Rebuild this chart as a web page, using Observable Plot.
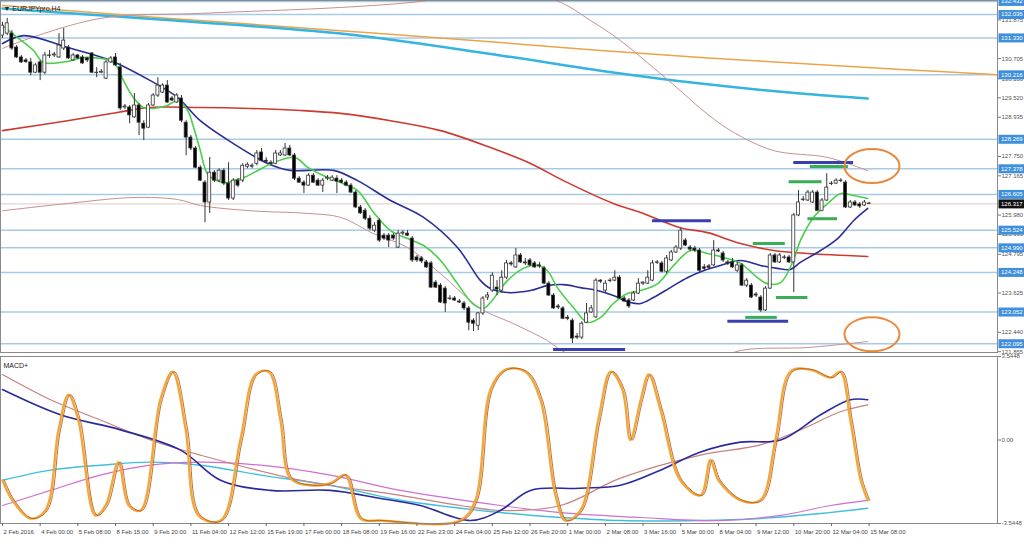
<!DOCTYPE html>
<html><head><meta charset="utf-8">
<script src="https://cdn.jsdelivr.net/npm/d3@7"></script>
<script src="https://cdn.jsdelivr.net/npm/@observablehq/plot@0.6"></script>
<style>
html,body{margin:0;padding:0;background:#fff;}
#chart{position:relative;width:1024px;height:544px;overflow:hidden;}
#toppanel{position:absolute;left:0;top:0;}
#botpanel{position:absolute;left:0;top:354px;}
svg{overflow:hidden;}
</style></head><body><div id="chart"><div id="toppanel"></div><div id="botpanel"></div></div>
<script>
// ---- price data (H4 candles, index 0..184) ----
const opens = [
131.40,131.46,131.46,131.04,130.74,130.65,130.59,130.28,130.59,130.28,
130.80,130.80,130.74,131.01,131.04,130.65,130.80,130.74,130.71,130.86,
130.28,130.28,130.10,130.59,130.74,130.44,129.23,129.23,128.93,129.29,
128.74,128.62,129.29,129.59,129.68,129.89,129.50,129.38,129.50,128.77,
128.32,127.99,127.41,126.96,126.36,127.26,127.02,127.32,126.93,126.48,
127.02,127.02,127.44,127.44,127.53,127.87,127.62,127.56,127.53,127.78,
127.78,127.99,127.78,127.08,126.96,126.87,127.17,127.02,126.87,127.08,
127.02,127.08,127.02,126.96,126.87,126.66,126.21,126.11,125.87,125.51,
125.81,125.36,125.36,125.36,125.00,125.42,125.42,125.27,124.70,124.67,
124.55,124.52,123.94,123.85,123.76,123.46,123.46,123.37,123.31,123.16,
122.79,122.64,123.01,123.49,123.70,123.79,123.70,124.09,124.52,124.40,
124.76,124.55,124.61,124.52,124.46,124.37,123.91,123.55,123.22,123.16,
122.88,122.79,122.31,122.28,122.73,123.04,122.89,124.00,123.70,124.00,
124.00,124.09,123.46,123.40,123.40,123.61,123.91,123.91,124.00,124.55,
124.52,124.27,124.61,124.85,124.97,125.21,125.00,124.97,124.91,124.40,
124.43,124.46,124.91,124.82,124.55,124.55,124.30,124.46,123.85,123.85,
123.58,123.49,123.10,123.76,124.76,124.55,124.70,124.70,124.55,125.97,
126.45,126.42,126.36,126.66,126.11,126.42,126.93,126.93,127.02,126.96,
126.21,126.36,126.30,126.27,126.33];
const highs = [
131.80,131.92,131.55,131.10,130.80,130.71,130.71,130.56,130.65,130.89,
130.95,130.89,131.46,131.61,131.10,130.86,130.83,130.80,130.74,130.89,
130.43,130.37,130.65,130.77,130.86,130.56,129.32,129.29,129.65,129.35,
128.83,129.35,129.65,130.13,129.95,130.04,129.56,129.65,129.59,128.83,
128.38,128.05,127.47,127.02,127.72,127.32,127.38,127.38,127.56,127.08,
127.08,127.53,127.56,127.53,127.93,127.99,127.71,127.62,127.93,127.93,
128.14,128.08,127.84,127.14,127.02,127.23,127.23,127.08,127.08,127.17,
127.17,127.17,127.08,127.02,126.93,126.72,126.27,126.18,125.96,125.75,
125.87,125.42,125.42,125.42,125.51,125.51,125.51,125.33,124.76,124.73,
124.61,124.58,124.00,123.91,123.82,123.55,123.52,123.43,123.37,123.22,
122.85,123.04,123.52,123.64,124.24,124.00,124.30,124.61,124.58,124.97,
124.82,124.67,124.67,124.58,124.55,124.43,123.97,123.61,123.28,123.22,
122.95,122.85,122.40,122.76,123.31,123.25,124.06,124.03,124.00,124.06,
124.30,124.15,123.52,123.46,123.67,124.06,123.97,124.30,124.61,124.61,
124.58,124.76,124.91,125.06,125.57,125.27,125.06,125.03,124.97,124.49,
124.49,125.21,124.97,124.88,124.61,124.67,124.55,124.52,124.06,123.91,
123.64,123.55,123.82,124.82,124.82,124.82,124.76,124.76,126.03,126.72,
126.54,126.72,126.72,126.72,126.48,127.23,126.99,127.08,127.08,127.02,
126.42,126.42,126.36,126.42,126.36];
const lows = [
131.31,131.40,130.95,130.71,130.56,130.56,130.19,130.25,130.04,130.22,
130.71,130.74,130.71,130.95,130.68,130.62,130.68,130.53,130.59,130.25,
130.13,130.25,130.07,130.56,130.47,129.14,129.17,128.74,128.90,128.38,
128.23,128.59,129.26,129.53,129.65,129.35,129.41,129.35,128.77,127.77,
127.93,127.38,126.99,125.75,126.03,126.96,126.96,126.87,126.42,126.42,
126.81,126.96,127.38,127.38,127.47,127.59,127.53,127.47,127.50,127.75,
127.75,127.75,127.02,126.93,126.63,126.84,126.93,126.84,126.66,127.02,
126.99,126.63,126.93,126.84,126.63,126.18,126.00,125.81,125.51,125.45,
125.15,125.21,125.00,125.21,124.97,125.36,125.33,124.55,124.55,124.52,
124.37,123.76,123.76,123.31,123.04,123.40,123.37,123.31,123.10,122.49,
122.46,122.49,122.95,123.40,123.64,123.55,123.64,124.03,124.43,124.37,
124.52,124.46,124.43,124.37,124.37,123.88,123.52,123.13,123.13,122.82,
122.79,122.10,122.22,122.22,122.70,123.01,122.86,123.91,123.64,123.94,
123.97,123.43,123.34,123.16,123.37,123.58,123.85,123.88,123.97,124.49,
124.24,124.21,124.58,124.82,124.91,125.03,124.88,124.85,124.24,124.30,
124.33,124.43,124.85,124.55,124.46,124.37,124.24,123.82,123.79,123.46,
123.49,123.04,123.07,123.73,124.52,124.52,124.64,124.52,123.64,125.93,
126.39,126.39,126.33,126.08,126.08,126.39,126.87,126.90,126.96,126.18,
126.18,126.24,126.18,126.24,126.30];
const closes = [
131.70,131.77,131.01,130.74,130.59,130.60,130.28,130.50,130.28,130.80,
130.79,130.83,131.10,131.25,130.71,130.80,130.71,130.56,130.65,130.28,
130.27,130.31,130.59,130.71,130.50,129.20,129.26,128.99,129.29,128.77,
128.59,129.29,129.59,129.89,129.89,129.38,129.44,129.59,128.83,128.32,
127.99,127.41,127.02,126.36,127.26,127.02,127.32,126.93,126.48,127.02,
126.87,127.47,127.50,127.47,127.84,127.62,127.59,127.53,127.84,127.84,
127.99,127.78,127.08,126.96,126.87,127.17,126.96,126.87,127.02,127.11,
127.11,126.99,126.96,126.87,126.66,126.21,126.03,125.87,125.57,125.66,
125.21,125.27,125.21,125.27,125.42,125.45,125.36,124.61,124.61,124.58,
124.40,123.79,123.79,123.34,123.31,123.45,123.40,123.34,123.16,122.73,
122.70,123.01,123.46,123.55,124.15,123.73,124.09,124.52,124.49,124.76,
124.55,124.52,124.46,124.40,124.43,123.91,123.55,123.16,123.19,122.85,
122.85,122.25,122.28,122.70,123.01,123.16,124.00,123.97,123.91,123.99,
124.09,123.46,123.37,123.22,123.61,123.91,123.94,124.09,124.52,124.54,
124.27,124.67,124.85,125.00,125.51,125.06,124.94,124.91,124.30,124.36,
124.39,124.91,124.88,124.61,124.52,124.40,124.46,123.85,124.00,123.49,
123.55,123.10,123.76,124.76,124.55,124.76,124.69,124.55,125.97,126.36,
126.44,126.66,126.66,126.11,126.42,126.81,126.92,127.02,127.01,126.21,
126.36,126.27,126.24,126.36,126.32];

// ---- indicator lines: [bar index, value] ----
const maGreen = [[0,131.70],[3.2,131.34],[6.6,130.95],[8.7,130.59],[13.8,130.62],[17.2,130.74],[20.8,130.71],[22.9,130.65],[24.4,130.44],[25.7,130.04],[27.8,129.53],[29.9,129.23],[32.1,129.20],[35,129.29],[37.2,129.44],[39.3,129.14],[40.6,128.62],[42,127.93],[43.5,127.23],[45.6,127.02],[47.8,126.96],[49,127.02],[51.2,127.11],[54.1,127.32],[57.5,127.56],[61.1,127.72],[62.6,127.69],[64.8,127.42],[68.2,127.17],[71.8,126.96],[75.4,126.72],[78.8,126.06],[82.4,125.51],[86,125.27],[89.4,125.06],[93,124.61],[96.6,123.91],[100,123.28],[102.1,123.16],[103.6,123.34],[107.2,124.00],[110.6,124.37],[113.6,124.46],[115.7,124.30],[117.8,123.79],[121.2,123.19],[124.2,122.74],[127,122.89],[129.7,123.31],[132.7,123.61],[135.5,123.70],[139.1,123.91],[142.5,124.46],[146.1,124.91],[149.7,124.82],[153.1,124.70],[156.7,124.52],[160.3,124.09],[162.4,123.91],[165.2,123.94],[167.9,124.61],[169.4,125.21],[172.2,125.91],[175.2,126.33],[178,126.63],[180.7,126.57],[183.7,126.48]];
const maBlue = [[0,131.16],[4.5,131.40],[13.8,131.04],[22.9,130.65],[31.4,130.04],[37.2,129.53],[42,128.83],[49,128.14],[56.3,127.54],[61.1,127.33],[64.8,127.33],[70.3,127.33],[75.4,127.02],[82.4,126.42],[89.4,125.91],[96.6,125.00],[101.5,124.00],[103.6,123.76],[107.2,123.64],[112.1,123.70],[115.7,123.85],[119.1,123.88],[122.7,123.79],[126.3,123.70],[129.7,123.55],[133.3,123.34],[135.5,123.31],[138.2,123.49],[141.8,123.79],[145.4,124.09],[148.8,124.30],[152.4,124.46],[156.7,124.61],[160.9,124.46],[164.5,124.37],[167.3,124.34],[169.4,124.55],[173.7,124.91],[177.3,125.27],[180.7,125.81],[183.7,126.18]];
const maRed = [[0,128.53],[13.8,128.83],[24.4,129.08],[31.4,129.23],[42,129.23],[52.7,129.20],[63.3,129.14],[71.8,129.05],[82.4,128.83],[93,128.53],[103.6,128.02],[112.1,127.54],[119.1,127.02],[129.7,126.33],[135.5,126.06],[143.9,125.60],[149.7,125.45],[156.7,125.12],[163.7,124.91],[170.9,124.82],[183.7,124.73]];
const bandUpper = [[0,131.01],[3.2,131.19],[20.8,131.92],[42,132.07],[71.8,132.25],[88.7,132.43],[101.5,132.70],[117.4,132.46],[124.8,131.86],[131.2,131.25],[137.6,130.50],[143.9,129.74],[148.2,129.20],[154.6,128.53],[163.7,127.93],[175.2,127.72],[183.7,127.32]];
const bandLower = [[0,126.11],[13.8,126.33],[27.8,126.51],[37.2,126.45],[42,126.27],[52.7,126.11],[64.8,126.03],[71.8,125.91],[78.8,125.42],[86,125.00],[93,124.21],[101.5,123.16],[108.5,122.70],[115.7,122.19],[119.5,121.83],[131.2,121.44],[148.2,121.44],[156.7,121.89],[170.9,121.98],[183.7,122.16]];
const maCyan = [[0,132.22],[35.7,131.86],[71.8,131.46],[105.7,130.80],[127,130.34],[148.2,129.95],[169.4,129.65],[183.7,129.50]];
const maOrange = [[0,132.31],[35.7,131.92],[71.8,131.55],[105.7,131.19],[127,130.95],[148.2,130.74],[169.4,130.56],[190.7,130.38],[211.3,130.22]];

// ---- levels, ticks, annotations ----
const levels = [132.432,132.036,131.330,130.216,128.269,127.378,126.605,125.524,124.990,124.248,123.052,122.095];
const lastPrice = 126.317;
const priceTicks = [131.875,130.705,130.100,129.520,128.935,127.750,127.165,125.980,125.395,124.795,123.625,122.440,121.855];
const blueSegs = [[138,150.5,125.81],[168,180.7,127.57],[154,166.9,122.77],[117,132.3,121.92]];
const greenSegs = [[171.5,179.6,127.45],[167,174,126.99],[171,177.3,125.87],[159.4,166.2,125.12],[164.3,171,123.49],[157.8,164.5,122.89]];
const circles = [[184.6,127.46],[184.6,122.38]];

// ---- MACD panel: [bar index, value] ----
const macdRange = 3.5448;
const oscOrange = [[0,-1.71],[2.1,-2.56],[5.9,-3.33],[9.1,-2.99],[11.9,0.43],[14,1.92],[16.1,0.85],[19.7,-3.20],[21.9,-2.78],[24.6,-0.94],[26.8,-2.78],[29.3,-2.99],[33.5,1.71],[36.1,2.90],[38.9,0.43],[41.6,-3.20],[46.3,-3.42],[50.5,0],[53.7,2.78],[56.5,2.90],[59,0.85],[61.1,-1.62],[65.4,-1.92],[69.6,-1.84],[72.8,-1.49],[76,-3.33],[80.3,-3.42],[97.2,-3.42],[100.4,-2.56],[103.6,2.14],[106.8,2.99],[111,2.90],[114.2,1.71],[117.4,-2.35],[119.5,-3.42],[122.7,-2.99],[126.5,0.85],[129.1,2.90],[131.6,2.14],[133.3,0],[135.5,1.71],[137.2,2.78],[139.7,1.28],[143.9,-1.71],[148.2,-2.35],[150.3,-0.85],[152,-1.71],[156.7,-2.56],[160.9,-2.56],[164.1,0],[167.3,2.90],[171.5,2.99],[175.8,2.65],[177.9,2.90],[180,0.85],[182.2,-1.71],[183.7,-2.56]];
const macdBlue = [[0,2.14],[12.3,1.07],[25.1,0.43],[37.8,-0.43],[46.3,-1.71],[56.9,-2.14],[69.6,-2.14],[80.3,-2.48],[88.7,-2.78],[99.4,-3.42],[105.7,-2.99],[112.1,-2.14],[122.7,-2.05],[131.2,-1.92],[139.7,-1.28],[148.2,-0.51],[156.7,-0.09],[165.2,0],[173.7,1.07],[180,1.71],[183.7,1.71]];
const macdPink = [[0,2.78],[10.2,1.71],[20.8,0.85],[31.4,0],[42,-0.64],[63.3,-1.71],[84.5,-2.35],[97.2,-2.78],[105.7,-2.99],[118.5,-2.78],[131.2,-1.62],[148.2,-0.64],[160.9,-0.21],[169.4,0.43],[177.9,1.20],[183.7,1.49]];
const macdCyan = [[0,-1.71],[10.2,-1.28],[20.8,-1.07],[31.4,-0.94],[42,-1.07],[54.8,-1.49],[69.6,-1.92],[84.5,-2.56],[105.7,-3.08],[118.5,-3.29],[131.2,-3.42],[148.2,-3.42],[160.9,-3.33],[173.7,-3.12],[183.7,-2.90]];
const macdMagenta = [[0,-2.78],[10.2,-2.14],[20.8,-1.49],[31.4,-1.07],[42,-0.94],[54.8,-1.07],[69.6,-1.49],[84.5,-2.14],[105.7,-2.78],[118.5,-3.08],[135.5,-3.29],[152.4,-3.42],[165.2,-3.20],[175.8,-2.78],[183.7,-2.56]];

// ---- time axis ----
const dateTickBars = d3.range(0, 185, 8);
const dateLabels = ["2 Feb 2016","4 Feb 00:00","5 Feb 08:00","8 Feb 15:00","9 Feb 20:00","11 Feb 04:00","12 Feb 12:00","15 Feb 19:00","17 Feb 00:00","18 Feb 08:00","19 Feb 16:00","22 Feb 23:00","24 Feb 04:00","25 Feb 12:00","26 Feb 20:00","1 Mar 00:00","2 Mar 08:00","3 Mar 16:00","5 Mar 00:00","8 Mar 04:00","9 Mar 12:00","10 Mar 20:00","12 Mar 04:00","15 Mar 08:00"];

// ---- build ----
(function () {
const FONT = "Liberation Sans, Arial, sans-serif";
const AX = 6;
const xDomain = [-0.42, 211.25];
const candles = closes.map((c, i) => ({i, o: opens[i], h: highs[i], l: lows[i], c}));
const pts = arr => arr.map(([x, y]) => ({x, y}));
const segs = arr => arr.map(([a, b, y]) => ({a, b, y}));

const boxSymbol = {draw(ctx) { ctx.moveTo(-13, -4.5); ctx.lineTo(13, -4.5); ctx.lineTo(13, 4.5); ctx.lineTo(-13, 4.5); ctx.closePath(); }};
const ellipseSymbol = {draw(ctx, size) {
  const r = Math.sqrt(size / Math.PI), rx = r * 1.62, ry = r, k = 0.5523;
  ctx.moveTo(rx, 0);
  ctx.bezierCurveTo(rx, k * ry, k * rx, ry, 0, ry);
  ctx.bezierCurveTo(-k * rx, ry, -rx, k * ry, -rx, 0);
  ctx.bezierCurveTo(-rx, -k * ry, -k * rx, -ry, 0, -ry);
  ctx.bezierCurveTo(k * rx, -ry, rx, -k * ry, rx, 0);
  ctx.closePath();
}};
const line = (arr, stroke, w, extra = {}) => Plot.line(pts(arr), {x: "x", y: "y", stroke, strokeWidth: w, curve: "catmull-rom", ...extra});

const topChart = Plot.plot({
  width: 1024, height: 354, marginLeft: 0, marginRight: 27, marginTop: 0, marginBottom: 2,
  x: {domain: xDomain, axis: null},
  y: {domain: [121.83, 132.46], axis: null},
  style: {fontFamily: FONT, background: "white", overflow: "hidden"},
  marks: [
    Plot.ruleY(levels, {stroke: "#a7cbe6", strokeWidth: 1.5}),
    Plot.ruleY([lastPrice], {stroke: "#dcc8c8", strokeWidth: 1}),
    line(maOrange, "#eca449", 1.5),
    line(maCyan, "#34b4de", 2.5),
    line(bandUpper, "#c69090", 1, {clip: true}),
    line(bandLower, "#c69090", 1, {clip: true}),
    line(maRed, "#cc3a30", 1.6),
    line(maBlue, "#2a2e95", 1.6),
    line(maGreen, "#48d048", 1.6),
    Plot.ruleX(candles, {x: "i", y1: "l", y2: "h", stroke: "#333", strokeWidth: 1}),
    Plot.rect(candles, {x1: d => d.i - 0.32, x2: d => d.i + 0.32, y1: "o", y2: "c", fill: d => d.c >= d.o ? "#fff" : "#000", stroke: "#333", strokeWidth: 0.8}),
    Plot.ruleY(segs(blueSegs), {x1: "a", x2: "b", y: "y", stroke: "#3a3fb0", strokeWidth: 3}),
    Plot.ruleY(segs(greenSegs), {x1: "a", x2: "b", y: "y", stroke: "#3aad58", strokeWidth: 3}),
    Plot.dot(pts(circles), {x: "x", y: "y", r: 17, symbol: ellipseSymbol, stroke: "#e8893c", strokeWidth: 2, fill: "none"}),
    Plot.frame({stroke: "#8a8a8a"}),
    Plot.axisY({anchor: "right", label: null, ticks: priceTicks, tickFormat: d => d.toFixed(3), tickSize: 3, tickPadding: 1, fontSize: AX, fill: "#555", stroke: "#777"}),
    Plot.dot(levels, {y: d => d, frameAnchor: "right", dx: 14, symbol: boxSymbol, r: 5, fill: "#3f8fdb"}),
    Plot.text(levels, {y: d => d, frameAnchor: "right", dx: 3.5, textAnchor: "start", text: d => d.toFixed(3), fill: "white", fontSize: AX}),
    Plot.dot([lastPrice], {y: d => d, frameAnchor: "right", dx: 14, symbol: boxSymbol, r: 5, fill: "#111"}),
    Plot.text([lastPrice], {y: d => d, frameAnchor: "right", dx: 3.5, textAnchor: "start", text: d => d.toFixed(3), fill: "white", fontSize: AX}),
    Plot.text(["▼ EURJPYpro,H4"], {frameAnchor: "top-left", dx: 3, dy: 6, textAnchor: "start", fontSize: 7, fill: "#222"})
  ]
});
document.getElementById("toppanel").appendChild(topChart);

const botChart = Plot.plot({
  width: 1024, height: 190, marginLeft: 0, marginRight: 27, marginTop: 2, marginBottom: 21,
  x: {domain: xDomain, axis: null},
  y: {domain: [-macdRange, macdRange], axis: null},
  style: {fontFamily: FONT, background: "white", overflow: "hidden"},
  marks: [
    line(macdCyan, "#3ec0dc", 1.4),
    line(macdMagenta, "#cf6fcf", 1.2),
    line(macdPink, "#c98080", 1.2),
    line(macdBlue, "#2a2a9e", 1.6),
    line(oscOrange, "#f2a63c", 2.4),
    line(oscOrange, "#b8601e", 0.9, {dx: 2}),
    Plot.frame({stroke: "#8a8a8a"}),
    Plot.axisY({anchor: "right", label: null, ticks: [macdRange, 0, -macdRange], tickFormat: d => d === 0 ? "0.00" : d.toFixed(4), tickSize: 3, tickPadding: 1, fontSize: AX, fill: "#555", stroke: "#777"}),
    Plot.axisX({label: null, ticks: dateTickBars, tickFormat: () => "", tickSize: 3, stroke: "#666"}),
    Plot.text(dateTickBars, {x: d => d, frameAnchor: "bottom", dy: 10, dx: 1, textAnchor: "start", text: (d, i) => dateLabels[i], fontSize: AX, fill: "#444"}),
    Plot.text(["MACD+"], {frameAnchor: "top-left", dx: 3, dy: 7, textAnchor: "start", fontSize: 7, fill: "#222"})
  ]
});
document.getElementById("botpanel").appendChild(botChart);
})();
</script></body></html>
